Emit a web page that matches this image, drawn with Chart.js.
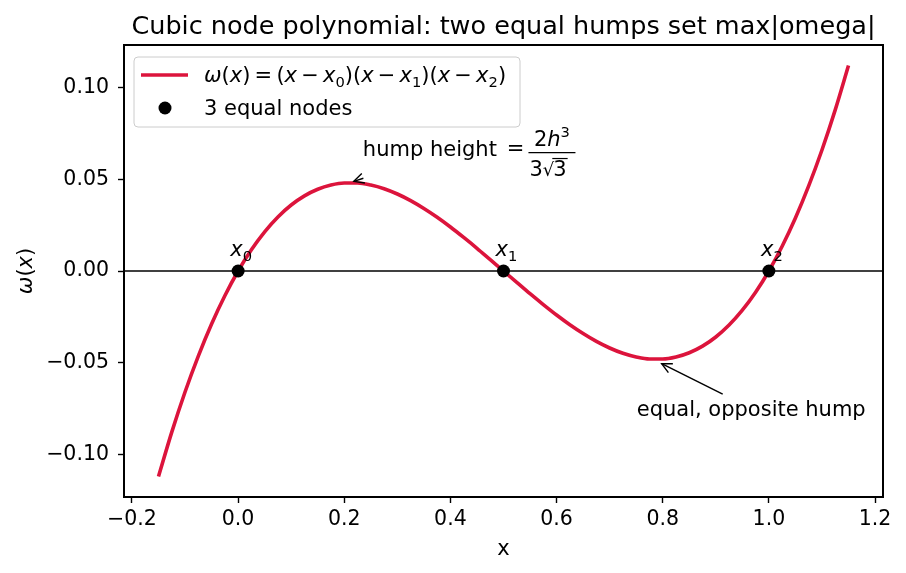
<!DOCTYPE html>
<html><head><meta charset="utf-8">
<script src="https://cdn.jsdelivr.net/npm/chart.js@4/dist/chart.umd.min.js"></script>
<style>html,body{margin:0;padding:0;background:#fff;overflow:hidden}</style>
</head><body>
<canvas id="c" width="906" height="573"></canvas>
<script>
// ---- data ----
const curveX = [-0.15,-0.125,-0.1,-0.075,-0.05,-0.025,0,0.025,0.05,0.075,0.1,0.125,0.15,0.175,0.2,0.225,0.25,0.275,0.3,0.325,0.35,0.375,0.4,0.425,0.45,0.475,0.5,0.525,0.55,0.575,0.6,0.625,0.65,0.675,0.7,0.725,0.75,0.775,0.8,0.825,0.85,0.875,0.9,0.925,0.95,0.975,1,1.025,1.05,1.075,1.1,1.125,1.15];
const curveY = [-0.1121,-0.0879,-0.066,-0.0464,-0.0289,-0.0135,0,0.0116,0.0214,0.0295,0.036,0.041,0.0446,0.0469,0.048,0.048,0.0469,0.0449,0.042,0.0384,0.0341,0.0293,0.024,0.0183,0.0124,0.0062,0,-0.0062,-0.0124,-0.0183,-0.024,-0.0293,-0.0341,-0.0384,-0.042,-0.0449,-0.0469,-0.048,-0.048,-0.0469,-0.0446,-0.041,-0.036,-0.0295,-0.0214,-0.0116,0,0.0135,0.0289,0.0464,0.066,0.0879,0.1121];
const nodeX = [0, 0.5, 1];
const nodeY = [0, 0, 0];
const nodeSubs = ['0', '1', '2'];
const xTicks = [-0.2, 0, 0.2, 0.4, 0.6, 0.8, 1.0, 1.2];
const yTicks = [-0.1, -0.05, 0, 0.05, 0.1];
const xLimits = [-0.215, 1.215];
const yLimits = [-0.1233, 0.1233];
// annotation anchors (data coords)
const humpText = [0.235, 0.063];
const humpArrowFrom = [0.236, 0.0506];
const humpArrowTo = [0.218, 0.0489];
const troughText = [0.751, -0.079];
const troughArrowFrom = [0.913, -0.0672];
const troughArrowTo = [0.798, -0.0506];

const FONT = '"DejaVu Sans"';
const RED = '#DC143C';
const FS = 21;

function font(sz, it) { return (it ? 'italic ' : '') + sz + 'px ' + FONT; }

function richWidth(ctx, segs, size) {
  let w = 0;
  for (const s of segs) {
    const sz = (s.sub || s.sup) ? size * 0.7 : size;
    ctx.font = font(sz, s.it);
    w += ctx.measureText(s.t).width;
  }
  return w;
}
function drawRich(ctx, segs, x, y, size, align) {
  const w = richWidth(ctx, segs, size);
  let cx = align === 'center' ? x - w / 2 : (align === 'right' ? x - w : x);
  ctx.textBaseline = 'alphabetic';
  ctx.textAlign = 'left';
  for (const s of segs) {
    const sz = (s.sub || s.sup) ? size * 0.7 : size;
    ctx.font = font(sz, s.it);
    const dy = s.sub ? size * 0.22 : (s.sup ? -size * 0.42 : 0);
    ctx.fillText(s.t, cx, y + dy);
    cx += ctx.measureText(s.t).width;
  }
  return w;
}
function arrow(ctx, x1, y1, x2, y2) {
  ctx.save();
  ctx.strokeStyle = '#000'; ctx.lineWidth = 1.4;
  ctx.beginPath(); ctx.moveTo(x1, y1); ctx.lineTo(x2, y2); ctx.stroke();
  const a = Math.atan2(y2 - y1, x2 - x1);
  const L = 10, W = 5;
  const bx = x2 - L * Math.cos(a), by = y2 - L * Math.sin(a);
  ctx.beginPath();
  ctx.moveTo(bx + W * Math.sin(a), by - W * Math.cos(a));
  ctx.lineTo(x2, y2);
  ctx.lineTo(bx - W * Math.sin(a), by + W * Math.cos(a));
  ctx.stroke();
  ctx.restore();
}

const fmt = (d) => (v) => (v < 0 ? '\u2212' : '') + Math.abs(v).toFixed(d);

const overlay = {
  id: 'overlay',
  beforeDatasetsDraw(chart) {
    const { ctx, chartArea: a, scales: { y } } = chart;
    const py = y.getPixelForValue(0);
    ctx.save();
    ctx.strokeStyle = '#000'; ctx.lineWidth = 1.6;
    ctx.beginPath(); ctx.moveTo(a.left, py); ctx.lineTo(a.right, py); ctx.stroke();
    ctx.restore();
  },
  afterDraw(chart) {
    const { ctx, chartArea: a, scales: { x, y } } = chart;
    ctx.save();
    ctx.fillStyle = '#000';
    // frame
    ctx.strokeStyle = '#000'; ctx.lineWidth = 2;
    ctx.strokeRect(a.left, a.top, a.right - a.left, a.bottom - a.top);
    // title
    ctx.font = font(25.5); ctx.textAlign = 'center'; ctx.textBaseline = 'alphabetic';
    ctx.fillText('Cubic node polynomial: two equal humps set max|omega|', (a.left + a.right) / 2, 34);
    // axis titles
    ctx.font = font(FS);
    ctx.fillText('x', (a.left + a.right) / 2, 555);
    ctx.save();
    ctx.translate(32, (a.top + a.bottom) / 2);
    ctx.rotate(-Math.PI / 2);
    drawRich(ctx, [{ t: 'ω', it: true }, { t: '(' }, { t: 'x', it: true }, { t: ')' }], 0, 0, FS, 'center');
    ctx.restore();

    // node labels
    for (let i = 0; i < nodeX.length; i++) {
      const px = x.getPixelForValue(nodeX[i]), py = y.getPixelForValue(nodeY[i]);
      drawRich(ctx, [{ t: 'x', it: true }, { t: nodeSubs[i], sub: true }], px + 3, py - 15, FS, 'center');
    }

    // hump annotation
    const hx = x.getPixelForValue(humpText[0]), hy = y.getPixelForValue(humpText[1]);
    ctx.font = font(FS); ctx.textAlign = 'left'; ctx.textBaseline = 'alphabetic';
    ctx.fillText('hump height', hx, hy);
    const eqX = hx + ctx.measureText('hump height').width + 10;
    ctx.fillText('=', eqX, hy - 1);
    const fx0 = eqX + ctx.measureText('=').width + 4;
    const fw = 47;
    drawRich(ctx, [{ t: '2' }, { t: 'h', it: true }, { t: '3', sup: true }], fx0 + fw / 2, hy - 10, FS, 'center');
    ctx.lineWidth = 1.2; ctx.beginPath(); ctx.moveTo(fx0, hy - 3); ctx.lineTo(fx0 + fw, hy - 3); ctx.stroke();
    ctx.font = font(FS);
    const w3 = ctx.measureText('3').width;
    let dx = fx0 + 1; const dy = hy + 20;
    ctx.fillText('3', dx, dy); dx += w3;
    ctx.font = font(18);
    ctx.fillText('\u221A', dx, dy);
    dx += ctx.measureText('\u221A').width - 1;
    ctx.font = font(FS);
    ctx.fillText('3', dx, dy);
    ctx.lineWidth = 1.2; ctx.beginPath(); ctx.moveTo(dx - 1, dy - 17); ctx.lineTo(dx + w3 + 1, dy - 17); ctx.stroke();
    arrow(ctx, x.getPixelForValue(humpArrowFrom[0]), y.getPixelForValue(humpArrowFrom[1]),
      x.getPixelForValue(humpArrowTo[0]), y.getPixelForValue(humpArrowTo[1]));

    // trough annotation
    ctx.font = font(FS); ctx.textAlign = 'left'; ctx.fillStyle = '#000';
    ctx.fillText('equal, opposite hump', x.getPixelForValue(troughText[0]), y.getPixelForValue(troughText[1]));
    arrow(ctx, x.getPixelForValue(troughArrowFrom[0]), y.getPixelForValue(troughArrowFrom[1]),
      x.getPixelForValue(troughArrowTo[0]), y.getPixelForValue(troughArrowTo[1]));

    // legend
    const L = { x: 134, y: 57, w: 386, h: 70 };
    ctx.fillStyle = 'rgba(255,255,255,0.8)';
    ctx.strokeStyle = '#cccccc'; ctx.lineWidth = 1;
    ctx.beginPath(); ctx.roundRect(L.x, L.y, L.w, L.h, 4); ctx.fill(); ctx.stroke();
    ctx.strokeStyle = RED; ctx.lineWidth = 3.6;
    ctx.beginPath(); ctx.moveTo(141, 75); ctx.lineTo(188, 75); ctx.stroke();
    ctx.fillStyle = '#000';
    ctx.beginPath(); ctx.arc(165, 108, 6.5, 0, Math.PI * 2); ctx.fill();
    drawRich(ctx, [
      { t: 'ω', it: true }, { t: '(' }, { t: 'x', it: true }, { t: ')\u2009=\u2009(' },
      { t: 'x', it: true }, { t: '\u2009\u2212\u2009' }, { t: 'x', it: true }, { t: '0', sub: true }, { t: ')(' },
      { t: 'x', it: true }, { t: '\u2009\u2212\u2009' }, { t: 'x', it: true }, { t: '1', sub: true }, { t: ')(' },
      { t: 'x', it: true }, { t: '\u2009\u2212\u2009' }, { t: 'x', it: true }, { t: '2', sub: true }, { t: ')' }
    ], 204, 82, FS, 'left');
    ctx.font = font(FS); ctx.textAlign = 'left'; ctx.textBaseline = 'alphabetic';
    ctx.fillText('3 equal nodes', 204, 115);
    ctx.restore();
  }
};

new Chart(document.getElementById('c'), {
  type: 'scatter',
  data: {
    datasets: [
      {
        label: 'omega',
        data: curveX.map((v, i) => ({ x: v, y: curveY[i] })),
        showLine: true, borderColor: RED, borderWidth: 3.6, pointRadius: 0,
        cubicInterpolationMode: 'monotone', order: 2
      },
      {
        label: '3 equal nodes',
        data: nodeX.map((v, i) => ({ x: v, y: nodeY[i] })),
        showLine: false, pointRadius: 6.5, backgroundColor: '#000', borderColor: '#000', borderWidth: 0, order: 1
      }
    ]
  },
  options: {
    responsive: false, animation: false, devicePixelRatio: 1,
    layout: { padding: { top: 45, right: 23, left: 0, bottom: 0 } },
    plugins: { legend: { display: false }, tooltip: { enabled: false }, title: { display: false } },
    scales: {
      x: {
        type: 'linear', min: xLimits[0], max: xLimits[1],
        afterBuildTicks: (s) => { s.ticks = xTicks.map(v => ({ value: v })); },
        afterFit: (s) => { s.height = 76; },
        ticks: { callback: fmt(1), color: '#000', font: { family: 'DejaVu Sans', size: 20.5 }, padding: 4, maxRotation: 0, autoSkip: false },
        grid: { display: true, drawOnChartArea: false, drawTicks: true, tickLength: 6, tickWidth: 1.4, tickColor: '#000' },
        border: { display: false }
      },
      y: {
        type: 'linear', min: yLimits[0], max: yLimits[1],
        afterBuildTicks: (s) => { s.ticks = yTicks.map(v => ({ value: v })); },
        afterFit: (s) => { s.width = 124; },
        ticks: { callback: fmt(2), color: '#000', font: { family: 'DejaVu Sans', size: 20.5 }, padding: 9, autoSkip: false },
        grid: { display: true, drawOnChartArea: false, drawTicks: true, tickLength: 6, tickWidth: 1.4, tickColor: '#000' },
        border: { display: false }
      }
    }
  },
  plugins: [overlay]
});
</script>
</body></html>
